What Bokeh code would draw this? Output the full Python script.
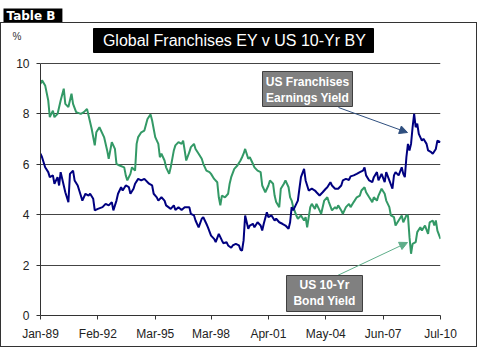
from bokeh.plotting import figure
from bokeh.models import (Range1d, FixedTicker, BoxAnnotation, Label, Arrow, NormalHead,
                          Title, LinearAxis, InlineStyleSheet)
from bokeh.embed import file_html
from bokeh.resources import INLINE

# ---- data (months since Jan-1989) ----
ey_month = [0, 1, 3, 5, 6, 8, 9, 11, 12, 13, 15, 16, 18, 19, 21, 22, 24, 26, 27, 29,
            31, 32, 34, 35, 37, 40, 42, 44, 46, 47, 49, 50, 52, 53, 55, 57, 58, 60, 61, 63,
            65, 67, 70, 72, 73, 75, 76, 78, 80, 81, 84, 86, 87, 89, 91, 93, 96, 97, 99, 100,
            102, 104, 105, 107, 108, 110, 112, 113, 115, 117, 118, 120, 121, 123, 124, 126, 128, 129,
            130, 131, 132, 134, 135, 137, 138, 140, 142, 143, 144, 146, 147, 149, 151, 152, 154, 156, 158, 160,
            161, 162, 163, 165, 166, 167, 168, 170, 171, 172, 173, 175, 177, 178, 180, 182, 184, 185, 187, 188, 190,
            192, 194, 195, 197, 199, 200, 202, 204, 206, 208, 209, 210, 212, 214, 215, 217, 218, 220, 222, 223,
            225, 227, 228, 229, 231, 233, 234, 235, 236, 237, 238, 239, 240, 241, 242, 243, 244, 246, 247, 249,
            250, 252, 253, 255, 256, 258]
ey_value = [6.42, 6.28, 5.88, 5.69, 5.49, 5.56, 5.23, 5.49, 5.16, 5.69, 5.16, 4.89, 4.5, 5.62, 5.75, 5.36, 5.16, 4.76, 4.56, 4.83,
            4.76, 4.83, 4.63, 4.17, 4.23, 4.3, 4.43, 4.37, 4.5, 4.17, 4.56, 4.83, 5.09, 4.96, 5.16, 5.09, 4.83, 5.03, 5.23, 5.42,
            5.36, 5.42, 5.23, 5.16, 4.83, 4.69, 4.56, 4.69, 4.56, 4.37, 4.23, 4.37, 4.19, 4.3, 4.19, 4.3, 4.3, 4.03, 3.97, 3.77,
            3.5, 3.84, 3.9, 3.64, 3.5, 3.17, 3.04, 2.91, 3.24, 2.98, 2.87, 2.91, 2.78, 2.69, 2.78, 2.84, 2.78, 2.61,
            2.58, 2.98, 3.97, 3.44, 3.57, 3.64, 3.5, 3.7, 3.57, 3.37, 3.64, 4.1, 3.9, 3.97, 3.77, 3.84, 3.7, 3.64, 3.57, 3.44,
            3.7, 4.3, 4.17, 4.43, 4.56, 5.03, 5.49, 5.82, 5.36, 5.16, 4.96, 5.03, 4.96, 4.89, 4.76, 4.89, 5.03, 5.09, 5.29, 5.16, 5.03,
            5.03, 5.16, 5.36, 5.42, 5.38, 5.52, 5.56, 5.62, 5.69, 5.75, 5.88, 5.56, 5.36, 5.29, 5.49, 5.69, 5.36, 5.62, 5.29, 5.69,
            5.36, 5.03, 5.56, 5.69, 5.56, 5.88, 5.62, 5.49, 6.28, 6.81, 6.55, 6.81, 7.47, 8.0, 7.47, 7.61, 7.21, 6.94, 7.01, 6.81,
            6.55, 6.48, 6.42, 6.61, 6.94, 6.88]

by_month = [0, 1, 3, 5, 6, 8, 9, 11, 13, 15, 16, 18, 20, 21, 23, 26, 28, 30, 31, 33,
            35, 36, 38, 41, 43, 44, 46, 48, 49, 51, 54, 55, 56, 58, 59, 61, 62, 63,
            65, 67, 69, 71, 72, 74, 76, 77, 78, 80, 81, 83, 84, 86, 87, 89, 91, 92, 93, 94,
            96, 97, 99, 100, 102, 104, 105, 107, 109, 110, 112, 114, 115, 116, 117, 119, 121, 122, 123, 125,
            127, 129, 130,
            131, 132, 134, 135, 137, 138, 140, 142, 143, 145, 147, 148, 150, 151, 152, 154, 155, 157, 158, 160,
            161, 162, 163, 165, 166, 168, 170, 171, 172, 174, 175, 177, 178, 180, 181, 183, 185, 186, 188, 190, 191,
            192, 194, 195, 197, 199, 200, 202, 204, 206, 207, 209, 210, 212, 214, 215, 217, 218, 220, 222, 223,
            225, 226, 228, 229, 231, 233, 234, 236, 237, 238, 239, 240, 242, 243, 245, 246, 248, 250, 251, 253,
            254, 255, 256, 258]
by_value = [9.19, 9.33, 9.13, 8.53, 7.87, 8.13, 7.87, 8.0, 8.53, 9.0, 8.4, 8.27, 8.8, 8.4, 8.07, 8.0, 8.07, 8.2, 7.94, 7.41,
            6.75, 7.27, 7.47, 7.08, 6.55, 6.22, 6.88, 6.61, 6.02, 5.95, 5.88, 5.56, 5.36, 5.62, 5.88, 5.75, 6.81, 7.08,
            7.27, 7.34, 7.8, 7.98, 7.74, 7.08, 6.81, 6.28, 6.42, 6.15, 5.88, 5.62, 5.88, 6.55, 6.75, 6.88, 6.81, 6.94, 6.55, 6.15,
            6.48, 6.68, 6.81, 6.61, 6.42, 6.22, 6.02, 5.75, 5.69, 5.62, 5.42, 5.29, 4.69, 4.37, 4.76, 4.69, 4.83, 5.23, 5.49, 5.82,
            5.95, 6.15, 6.28,
            6.42, 6.61, 6.22, 6.28, 6.02, 5.88, 5.75, 5.69, 5.16, 4.89, 5.16, 5.36, 5.23, 4.76, 4.5, 4.3, 5.03, 5.23, 5.36, 5.09,
            4.69, 4.56, 4.3, 3.97, 3.84, 3.97, 3.77, 3.9, 3.5, 4.3, 4.43, 4.23, 4.43, 4.17, 4.03, 4.56, 4.69, 4.5, 4.17, 4.3, 4.23,
            4.37, 4.17, 4.03, 4.3, 4.43, 4.3, 4.5, 4.69, 4.76, 4.96, 5.09, 4.89, 4.69, 4.5, 4.69, 4.56, 4.76, 5.03, 4.83, 4.56,
            4.3, 3.97, 3.9, 3.57, 3.77, 3.97, 3.7, 3.97, 3.97, 3.11, 2.45, 2.84, 2.91, 3.31, 3.5, 3.37, 3.57, 3.24, 3.7, 3.77,
            3.57, 3.77, 3.37, 3.04]

x_tick_months = [0, 37, 74, 110, 147, 184, 221, 258]
x_tick_labels = ["Jan-89", "Feb-92", "Mar-95", "Mar-98", "Apr-01", "May-04", "Jun-07", "Jul-10"]
y_ticks = [0, 2, 4, 6, 8, 10]

title_text = "Global Franchises EY v US 10-Yr BY"
table_text = "Table B"
unit_text = "%"
ey_callout = ["US Franchises", "Earnings Yield"]
by_callout = ["US 10-Yr", "Bond Yield"]

FONT = "Liberation Sans"
EY_COLOR = "#000080"
BY_COLOR = "#339966"
PX_PER_UNIT = 25.2           # vertical pixels per 1 % point
Y_TOP = y_ticks[-1] + 41 / PX_PER_UNIT   # frame reaches up to the outer frame line
UNIT_Y = y_ticks[-1] + 27 / PX_PER_UNIT  # where the "%" sits

p = figure(width=485, height=357, output_backend="svg", toolbar_location=None,
           title=None,
           x_range=Range1d(x_tick_months[0], x_tick_months[-1]),
           y_range=Range1d(y_ticks[0], Y_TOP),
           min_border_left=40, min_border_right=45, min_border_top=22, min_border_bottom=42)
p.background_fill_color = "white"
p.border_fill_color = "white"
p.outline_line_color = None

xax = p.xaxis[0]
yax = p.yaxis[0]
xax.ticker = FixedTicker(ticks=x_tick_months)
xax.major_label_overrides = {m: l for m, l in zip(x_tick_months, x_tick_labels)}
yax.ticker = FixedTicker(ticks=y_ticks)
yax.bounds = (y_ticks[0], y_ticks[-1])
p.xgrid.visible = False
p.ygrid.ticker = FixedTicker(ticks=y_ticks)
p.ygrid.grid_line_color = "#444444"
p.ygrid.grid_line_width = 1

for ax in (xax, yax):
    ax.axis_line_color = "#333333"
    ax.major_tick_line_color = "#333333"
    ax.major_tick_in = 0
    ax.major_tick_out = 4
    ax.minor_tick_line_color = None
    ax.major_label_text_font = FONT
    ax.major_label_text_font_size = "12px"
    ax.major_label_text_color = "#222222"
    ax.major_label_standoff = 7

# "%" unit marker as a second, line-less left axis
unit_axis = LinearAxis(ticker=FixedTicker(ticks=[UNIT_Y]),
                       major_label_overrides={UNIT_Y: unit_text},
                       axis_line_color=None, major_tick_line_color=None,
                       minor_tick_line_color=None, major_tick_in=0, major_tick_out=0,
                       major_label_standoff=-8,
                       major_label_text_font=FONT, major_label_text_font_size="10px",
                       major_label_text_color="#333333")
p.add_layout(unit_axis, "left")

p.line(by_month, by_value, line_color=BY_COLOR, line_width=2)
p.line(ey_month, ey_value, line_color=EY_COLOR, line_width=2)

# "Table B" tag above the frame
tag_kw = dict(text=table_text, align="left", offset=-37, standoff=0, vertical_align="bottom",
              text_font="DejaVu Sans", text_font_size="12px", text_font_style="bold",
              text_color="white", background_fill_color="black")
if "padding" in Title.properties():
    tag_kw["padding"] = (3, 7, 0, 0)
p.add_layout(Title(**tag_kw), "above")


def sbox(l, r, t, b, fill, line, width=1):
    return BoxAnnotation(left=l, right=r, top=t, bottom=b,
                         left_units="screen", right_units="screen",
                         top_units="screen", bottom_units="screen",
                         fill_color=fill, fill_alpha=1 if fill else 0,
                         line_color=line, line_alpha=1 if line else 0, line_width=width,
                         level="overlay")


def slabel(x, y, text, size, color, bold=False, align="center", font=FONT):
    return Label(x=x, y=y, x_units="screen", y_units="screen", text=text,
                 text_font=font, text_font_size=size, text_color=color,
                 text_font_style="bold" if bold else "normal",
                 text_align=align, text_baseline="middle", level="overlay")


# chart title box
p.add_layout(sbox(53, 333, 287, 263, "black", "black"))
p.add_layout(slabel(194, 275, title_text, "16px", "white"))

# callouts
p.add_layout(Arrow(x_start=298, y_start=208, x_end=367, y_end=183,
                   start_units="screen", end_units="screen",
                   line_color="#2f4f7f", line_width=1,
                   end=NormalHead(size=8, fill_color="#2f4f7f", line_color="#2f4f7f")))
p.add_layout(Arrow(x_start=297, y_start=40, x_end=367, y_end=73,
                   start_units="screen", end_units="screen",
                   line_color="#5fae8a", line_width=1,
                   end=NormalHead(size=8, fill_color="#5fae8a", line_color="#5fae8a")))
p.add_layout(sbox(222, 312, 244, 209, "#808080", "#404040"))
p.add_layout(slabel(267, 234, ey_callout[0], "12px", "white", bold=True))
p.add_layout(slabel(267, 218, ey_callout[1], "12px", "white", bold=True))
p.add_layout(sbox(246, 322, 40, 4, "#808080", "#404040"))
p.add_layout(slabel(284, 31, by_callout[0], "12px", "white", bold=True))
p.add_layout(slabel(284, 15, by_callout[1], "12px", "white", bold=True))

# outer frame of the exhibit
p.stylesheets = [InlineStyleSheet(css=(
    ":host { position: relative; }"
    ":host::after { content: ''; position: absolute; left: 0px; top: 22px;"
    " width: 477px; height: 325px; box-sizing: border-box;"
    " border: 1px solid #333333; pointer-events: none; }"))]

open("out.html", "w").write(file_html(p, INLINE))
